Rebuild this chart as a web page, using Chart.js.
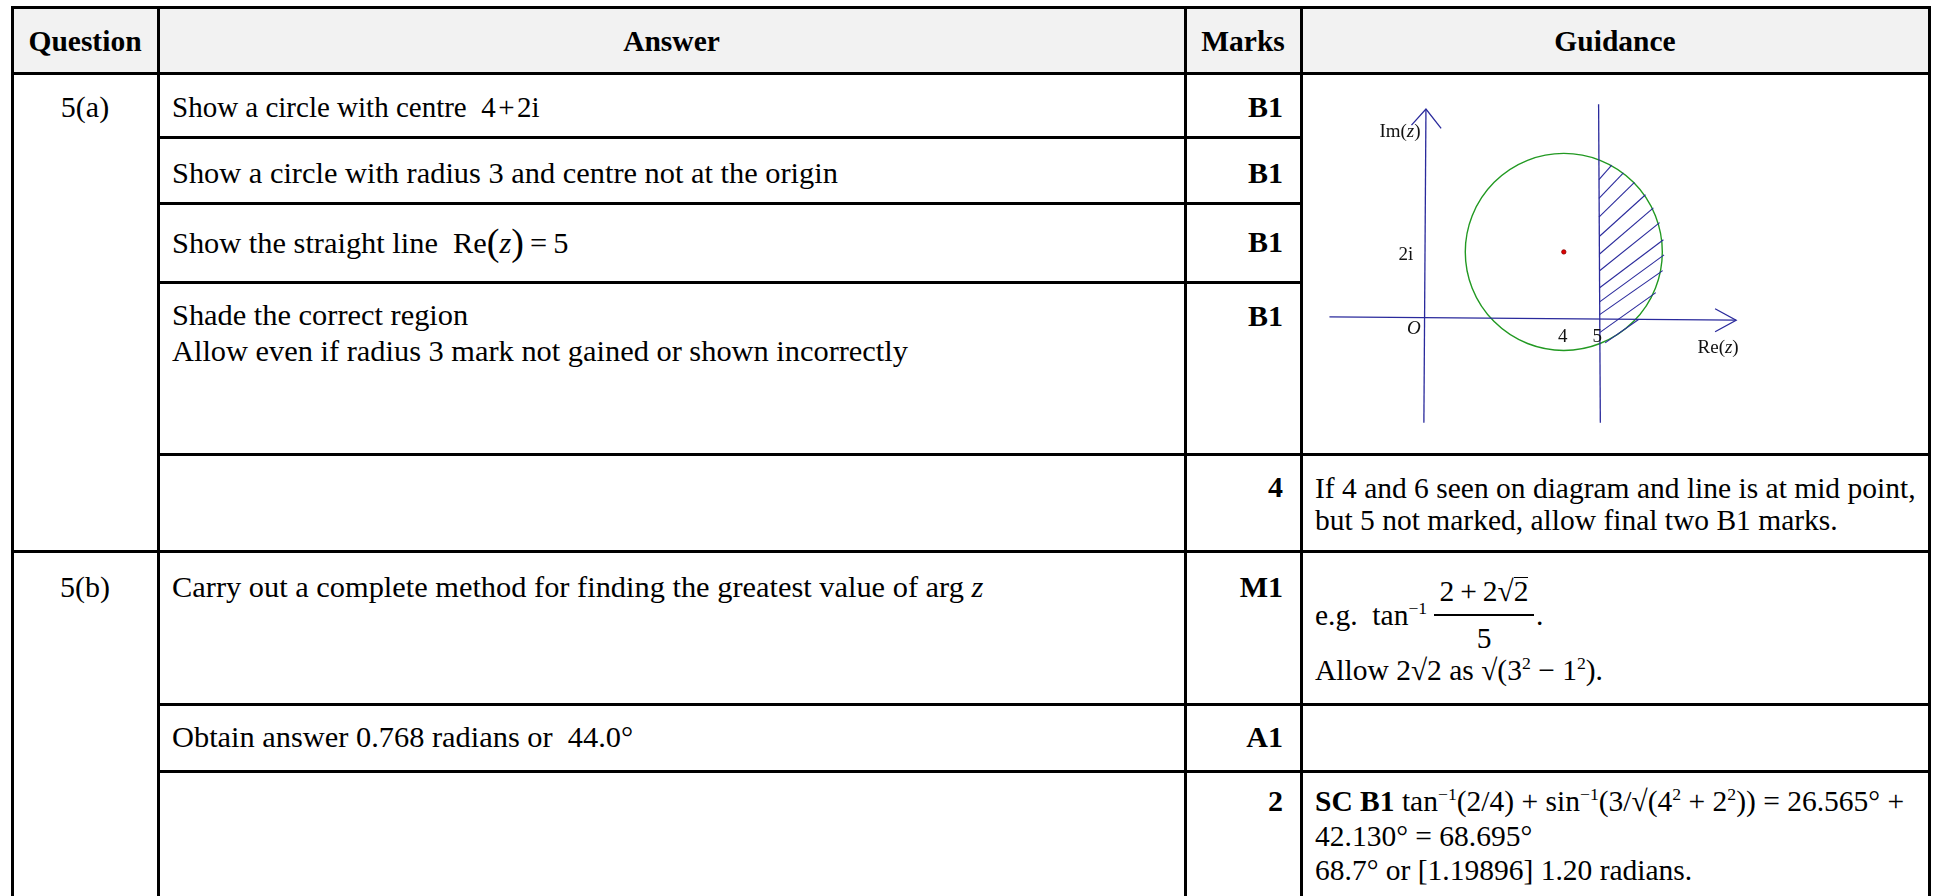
<!DOCTYPE html>
<html lang="en">
<head>
<meta charset="utf-8">
<title>Question 5 mark scheme</title>
<script src="https://cdn.jsdelivr.net/npm/chart.js@4.4.1/dist/chart.umd.min.js"></script>
<style>
  html, body { margin: 0; padding: 0; background: #fff; }
  body { position: relative; width: 1933px; height: 896px; overflow: hidden;
         font-family: "Liberation Serif", "Times New Roman", serif; color: #000; }
  .head { position: absolute; left: 12px; top: 7px; width: 1917px; height: 66px; background: #f2f2f2; }
  .h, .v { position: absolute; background: #000; }
  .h { height: 3px; }
  .v { width: 3px; top: 6px; height: 900px; }
  .t { position: absolute; font-size: 30.4px; line-height: 34px; white-space: nowrap; }
  .g { font-size: 29.5px; }
  .m { font-size: 30px; }
  .bold { font-weight: bold; }
  .c { text-align: center; }
  .r { text-align: right; }
  sup { font-size: 0.6em; line-height: 0; vertical-align: 0.6em; }
  .big { font-size: 38px; vertical-align: -2px; }
  #diagram { position: absolute; left: 1303px; top: 76px; }
</style>
</head>
<body>
<div class="head"></div>

<!-- table rules -->
<div class="h" style="left:11px;top:6px;width:1920px"></div>
<div class="h" style="left:11px;top:72px;width:1920px"></div>
<div class="h" style="left:157px;top:136px;width:1146px"></div>
<div class="h" style="left:157px;top:202px;width:1146px"></div>
<div class="h" style="left:157px;top:281px;width:1146px"></div>
<div class="h" style="left:157px;top:453px;width:1774px"></div>
<div class="h" style="left:11px;top:550px;width:1920px"></div>
<div class="h" style="left:157px;top:703px;width:1774px"></div>
<div class="h" style="left:157px;top:770px;width:1774px"></div>
<div class="v" style="left:11px"></div>
<div class="v" style="left:157px"></div>
<div class="v" style="left:1184px"></div>
<div class="v" style="left:1300px"></div>
<div class="v" style="left:1928px"></div>

<!-- header -->
<div class="t g bold c" style="left:12px;width:146px;top:24px">Question</div>
<div class="t g bold c" style="left:158px;width:1027px;top:24px">Answer</div>
<div class="t g bold c" style="left:1185px;width:116px;top:24px">Marks</div>
<div class="t g bold c" style="left:1301px;width:628px;top:24px">Guidance</div>

<!-- question -->
<div class="t m c" style="left:12px;width:146px;top:90px">5(a)</div>
<div class="t m c" style="left:12px;width:146px;top:570px">5(b)</div>

<!-- answer -->
<div class="t" style="left:172px;top:90px;font-size:29px">Show a circle with centre&nbsp; 4&#8202;+&#8202;2i</div>
<div class="t" style="left:172px;top:156px">Show a circle with radius 3 and centre not at the origin</div>
<div class="t" style="left:172px;top:225px">Show the straight line&nbsp; Re<span class="big">(</span><i>z</i><span class="big">)</span>&#8201;=&#8201;5</div>
<div class="t" style="left:172px;top:298px;line-height:35.7px">Shade the correct region<br>Allow even if radius 3 mark not gained or shown incorrectly</div>
<div class="t" style="left:172px;top:570px">Carry out a complete method for finding the greatest value of arg <i>z</i></div>
<div class="t" style="left:172px;top:720px">Obtain answer 0.768 radians or&nbsp; 44.0°</div>

<!-- marks -->
<div class="t m bold r" style="left:1185px;width:98px;top:90px">B1</div>
<div class="t m bold r" style="left:1185px;width:98px;top:156px">B1</div>
<div class="t m bold r" style="left:1185px;width:98px;top:225px">B1</div>
<div class="t m bold r" style="left:1185px;width:98px;top:299px">B1</div>
<div class="t m bold r" style="left:1185px;width:98px;top:470px">4</div>
<div class="t m bold r" style="left:1185px;width:98px;top:570px">M1</div>
<div class="t m bold r" style="left:1185px;width:98px;top:720px">A1</div>
<div class="t m bold r" style="left:1185px;width:98px;top:784px">2</div>

<!-- guidance -->
<canvas id="diagram" width="624" height="376"></canvas>
<div class="t g" style="left:1315px;top:472px;line-height:32px">If 4 and 6 seen on diagram and line is at mid point,<br>but 5 not marked, allow final two B1 marks.</div>
<div class="t g" style="left:1315px;top:598px">e.g.&nbsp; tan<sup>−1</sup></div>
<div class="t g c" style="left:1434px;width:100px;top:574px">2&#8201;+&#8201;2√<span style="border-top:1.5px solid #000;line-height:26px;display:inline-block">2</span></div>
<div style="position:absolute;left:1434px;top:614px;width:100px;height:1.5px;background:#000"></div>
<div class="t g c" style="left:1434px;width:100px;top:621px">5</div>
<div class="t g" style="left:1536px;top:598px">.</div>
<div class="t g" style="left:1315px;top:653px">Allow 2√2 as √(3<sup>2</sup> − 1<sup>2</sup>).</div>
<div class="t g" style="left:1315px;top:784px;line-height:34.5px"><b>SC B1</b> tan<sup>−1</sup>(2/4) + sin<sup>−1</sup>(3/√(4<sup>2</sup> + 2<sup>2</sup>)) = 26.565° +<br>42.130° = 68.695°<br>68.7° or [1.19896] 1.20 radians.</div>

<script>
'use strict';

// Argand diagram, values in units of Re(z) and Im(z)
const circleCentre = { x: 4, y: 2 };
const circleRadius = 3;
const reLineX = [5.01, 5.06]; // Re(z) = 5, as drawn (top, bottom)
const reLineY = [6.5, -3.2];
const reAxisX = [-2.8, 9.0];
const reAxisY = [0.02, -0.08];
const imAxisX = [-0.06, 0];
const imAxisY = [-3.2, 6.35];
const reArrowX = [8.39, 9.0, 8.39];
const reArrowY = [0.27, -0.08, -0.43];
const imArrowX = [-0.42, 0, 0.44];
const imArrowY = [5.86, 6.35, 5.76];
const reTickValues = [4, 5];
const reTickLabels = ['4', '5'];
const imTickValues = [2];
const imTickLabels = ['2i'];

// hatching strokes in the shaded region (start -> end)
const hatchStartX = [5.02, 5.02, 5.02, 5.03, 5.03, 5.03, 5.04, 5.04, 5.04, 5.05, 5.2];
const hatchStartY = [4.20, 3.63, 3.06, 2.47, 1.93, 1.42, 0.91, 0.48, 0.09, -0.45, -0.77];
const hatchEndX = [5.39, 5.73, 6.05, 6.37, 6.60, 6.78, 6.89, 6.91, 6.87, 6.67, 6.18];
const hatchEndY = [4.64, 4.41, 4.12, 3.74, 3.34, 2.89, 2.37, 1.91, 1.43, 0.76, -0.05];

const navy = '#2a2a9c';
const green = '#229922';
const labelFont = '"Liberation Serif", "Times New Roman", serif';

function pts(xs, ys) {
  return xs.map((v, i) => ({ x: v, y: ys[i] }));
}

const stroke = {
  showLine: true,
  borderColor: navy,
  borderWidth: 1.3,
  pointRadius: 0,
  fill: false,
  tension: 0,
  clip: false
};

// label like Im(z) with the z in italics, centred on (cx, cy)
function drawPartLabel(ctx, name, cx, cy) {
  const parts = [[name + '(', '19px ' + labelFont], ['z', 'italic 19px ' + labelFont], [')', '19px ' + labelFont]];
  let w = 0;
  parts.forEach(p => { ctx.font = p[1]; w += ctx.measureText(p[0]).width; });
  let px = cx - w / 2;
  ctx.textAlign = 'left';
  parts.forEach(p => {
    ctx.font = p[1];
    ctx.fillText(p[0], px, cy);
    px += ctx.measureText(p[0]).width;
  });
  ctx.textAlign = 'center';
}

const planeLabels = {
  id: 'planeLabels',
  afterDatasetsDraw(chart) {
    const { ctx, scales: { x, y } } = chart;
    ctx.save();
    ctx.fillStyle = '#111';
    ctx.textAlign = 'center';
    ctx.textBaseline = 'middle';
    ctx.font = '19px ' + labelFont;
    reTickValues.forEach((v, i) => {
      ctx.fillText(reTickLabels[i], x.getPixelForValue(v) - 1, y.getPixelForValue(0) + 19);
    });
    imTickValues.forEach((v, i) => {
      ctx.fillText(imTickLabels[i], x.getPixelForValue(0) - 20, y.getPixelForValue(v) + 3);
    });
    ctx.font = 'italic 19px ' + labelFont;
    ctx.fillText('O', x.getPixelForValue(0) - 12, y.getPixelForValue(0) + 11);
    drawPartLabel(ctx, 'Im', x.getPixelForValue(imAxisX[1]) - 26, y.getPixelForValue(imAxisY[1]) + 23);
    drawPartLabel(ctx, 'Re', x.getPixelForValue(reAxisX[1]) - 18, y.getPixelForValue(reAxisY[1]) + 28);
    ctx.restore();
  }
};

const hatchSets = hatchStartX.map((sx, i) => ({
  ...stroke,
  borderWidth: 1.1,
  data: pts([sx, hatchEndX[i]], [hatchStartY[i], hatchEndY[i]])
}));

new Chart(document.getElementById('diagram'), {
  type: 'scatter',
  data: {
    datasets: [
      { ...stroke, data: pts(reAxisX, reAxisY) },
      { ...stroke, data: pts(reArrowX, reArrowY) },
      { ...stroke, data: pts(imAxisX, imAxisY) },
      { ...stroke, data: pts(imArrowX, imArrowY) },
      { ...stroke, data: pts(reLineX, reLineY) },
      ...hatchSets,
      {
        // |z - (4 + 2i)| = 3, radius taken through the y scale
        data: [circleCentre],
        pointRadius: (c) => {
          const s = c.chart.scales.y;
          return Math.abs(s.getPixelForValue(circleCentre.y + circleRadius) - s.getPixelForValue(circleCentre.y));
        },
        pointBackgroundColor: 'rgba(0,0,0,0)',
        pointBorderColor: green,
        pointBorderWidth: 1.4
      },
      {
        data: [circleCentre],
        pointRadius: 2.2,
        pointBackgroundColor: '#e00000',
        pointBorderColor: '#8a0000',
        pointBorderWidth: 0.8
      }
    ]
  },
  options: {
    responsive: false,
    animation: false,
    events: [],
    layout: { padding: 0 },
    plugins: { legend: { display: false }, tooltip: { enabled: false } },
    scales: {
      x: { type: 'linear', display: false, min: -3.4286, max: 14.4 },
      y: { type: 'linear', display: false, min: -3.9466, max: 7.2107 }
    }
  },
  plugins: [planeLabels]
});
</script>
</body>
</html>
